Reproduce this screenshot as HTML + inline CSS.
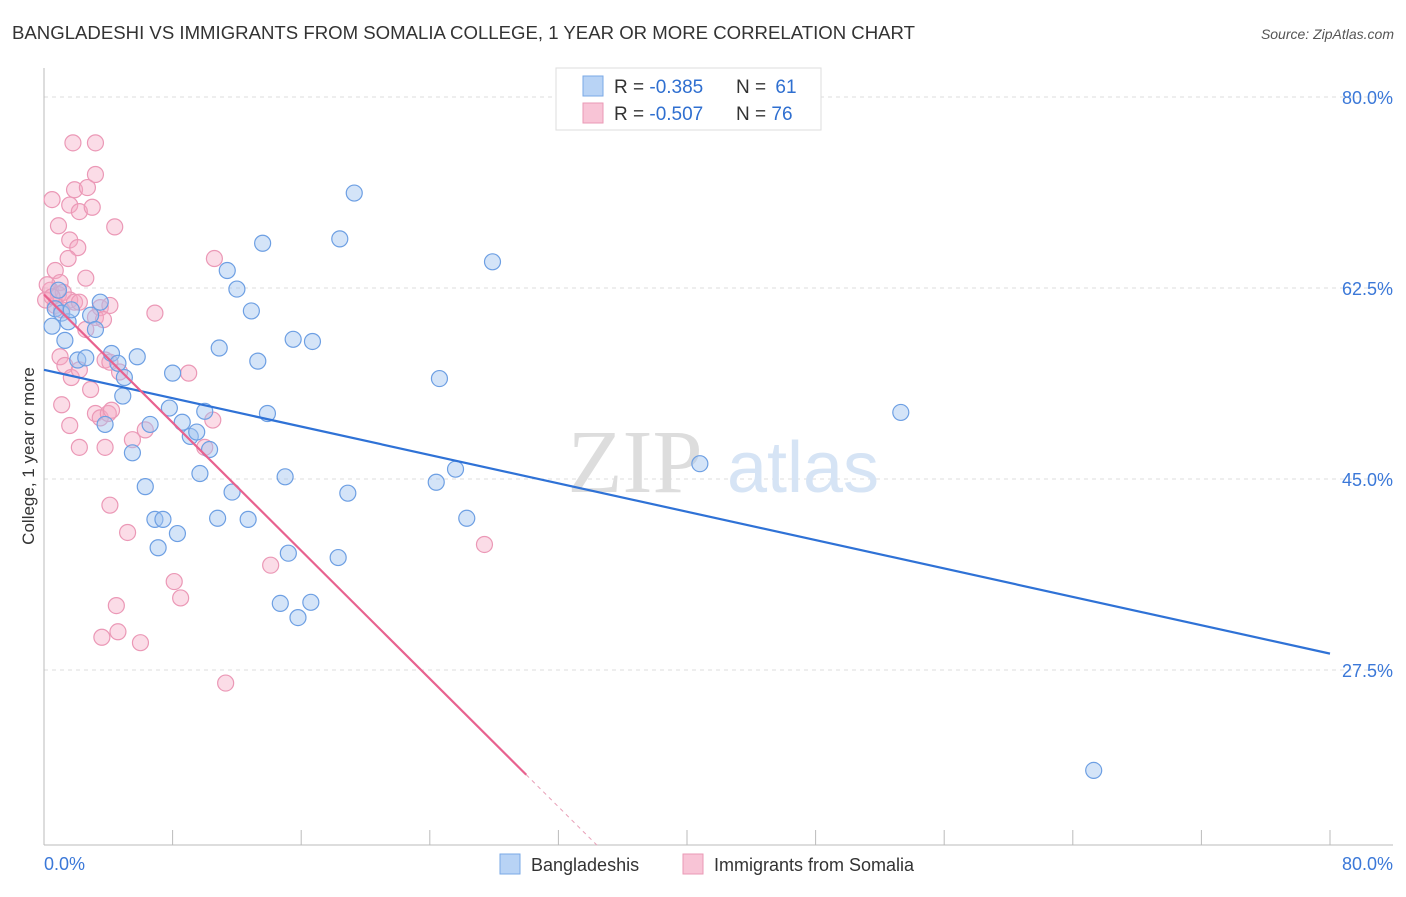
<!DOCTYPE html>
<html><head><meta charset="utf-8"><style>
body{margin:0;background:#fff;font-family:"Liberation Sans",sans-serif}
</style></head><body>
<svg width="1406" height="892" xmlns="http://www.w3.org/2000/svg" font-family="Liberation Sans, sans-serif">
<text x="12" y="39" font-size="18.6" fill="#333">BANGLADESHI VS IMMIGRANTS FROM SOMALIA COLLEGE, 1 YEAR OR MORE CORRELATION CHART</text>
<text x="1394" y="39" font-size="14" fill="#555" font-style="italic" text-anchor="end">Source: ZipAtlas.com</text>
<g id="grid"></g>
<g><text x="635" y="492" font-size="90" fill="#ddd" text-anchor="middle" font-family="Liberation Serif, serif">ZIP</text><text x="803" y="492" font-size="72" fill="#d6e4f5" text-anchor="middle">atlas</text></g>
<g id="axes"></g>
<g id="pts"></g>
<g id="trends"></g>
<text transform="translate(34,456) rotate(-90)" font-size="17" fill="#333" text-anchor="middle">College, 1 year or more</text>
<g>
<rect x="556" y="68" width="265" height="62" fill="#fff" stroke="#ddd"/>
<rect x="583" y="76" width="20" height="20" fill="#b8d3f5" stroke="#7aa8e6"/>
<rect x="583" y="103" width="20" height="20" fill="#f8c4d6" stroke="#ea99b5"/>
<text x="614" y="93" font-size="19" fill="#333">R = <tspan fill="#2f6fd0">-0.385</tspan></text>
<text x="736" y="93" font-size="19" fill="#333">N = <tspan fill="#2f6fd0" dx="4">61</tspan></text>
<text x="614" y="120" font-size="19" fill="#333">R = <tspan fill="#2f6fd0">-0.507</tspan></text>
<text x="736" y="120" font-size="19" fill="#333">N = <tspan fill="#2f6fd0">76</tspan></text>
</g>
<g>
<rect x="500" y="854" width="20" height="20" fill="#b8d3f5" stroke="#7aa8e6"/>
<text x="531" y="871" font-size="18" fill="#333">Bangladeshis</text>
<rect x="683" y="854" width="20" height="20" fill="#f8c4d6" stroke="#ea99b5"/>
<text x="714" y="871" font-size="18" fill="#333">Immigrants from Somalia</text>
</g>
</svg>
<script>
const yTicks=[80,62.5,45,27.5];
const xTickVals=[0,8,16,24,32,40,48,56,64,72,80];
const blueX=[0.5,0.7,0.9,1.1,1.3,1.5,1.7,2.1,2.6,2.9,3.2,3.5,3.8,4.2,4.6,4.9,5.0,5.5,5.8,6.3,6.6,6.9,7.1,7.4,7.8,8.0,8.3,8.6,9.1,9.5,9.7,10.0,10.3,10.8,10.9,11.4,11.7,12.0,12.7,12.9,13.3,13.6,13.9,15.0,15.2,14.7,15.5,15.8,16.6,16.7,18.3,18.4,18.9,19.3,24.4,24.6,25.6,26.3,27.9,40.8,53.3,65.3];
const blueY=[59.0,60.6,62.3,60.2,57.7,59.4,60.5,55.9,56.1,60.0,58.7,61.2,50.0,56.5,55.6,52.6,54.3,47.4,56.2,44.3,50.0,41.3,38.7,41.3,51.5,54.7,40.0,50.2,48.9,49.3,45.5,51.2,47.7,41.4,57.0,64.1,43.8,62.4,41.3,60.4,55.8,66.6,51.0,45.2,38.2,33.6,57.8,32.3,33.7,57.6,37.8,67.0,43.7,71.2,44.7,54.2,45.9,41.4,64.9,46.4,51.1,18.3];
const pinkX=[0.5,0.9,1.8,3.2,1.9,2.7,3.2,1.6,2.2,3.0,4.4,1.6,2.1,1.5,0.7,1.0,2.6,0.4,0.9,1.2,1.6,1.9,2.2,3.5,4.1,0.7,1.1,3.2,3.7,2.6,6.9,1.0,1.3,1.7,2.2,2.9,3.8,4.1,4.7,1.1,1.6,3.2,3.5,4.0,4.2,2.2,3.8,5.5,6.3,9.0,10.5,10.6,4.1,5.2,8.1,8.5,4.5,3.6,4.6,6.0,10.0,11.3,14.1,27.4,0.1,0.2,0.5];
const pinkY=[70.6,68.2,75.8,75.8,71.5,71.7,72.9,70.1,69.5,69.9,68.1,66.9,66.2,65.2,64.1,63.0,63.4,62.3,61.9,62.1,61.4,61.2,61.2,60.7,60.9,60.9,60.5,59.8,59.6,58.7,60.2,56.2,55.4,54.3,55.0,53.2,55.9,55.7,54.8,51.8,49.9,51.0,50.6,51.0,51.3,47.9,47.9,48.6,49.5,54.7,50.4,65.2,42.6,40.1,35.6,34.1,33.4,30.5,31.0,30.0,47.9,26.3,37.1,39.0,61.4,62.8,61.7];
const blueTrend=[55.0,29.0];
const pinkTrend=[61.9,17.9,30.0,34.4];
const X=v=>44+v*16.075, Y=v=>97+(80-v)*10.914;
const NS='http://www.w3.org/2000/svg';
function mk(p,t,a){const e=document.createElementNS(NS,t);for(const k in a)e.setAttribute(k,a[k]);p.appendChild(e);return e;}
const grid=document.getElementById('grid'),axes=document.getElementById('axes');
yTicks.forEach(v=>{
 const l=mk(grid,'line',{x1:44,x2:1393,y1:Y(v),y2:Y(v),stroke:'#ddd','stroke-dasharray':'4,4'});
 
 
 const t=mk(axes,'text',{x:1393,y:Y(v)+7,'font-size':18,fill:'#3b78d8','text-anchor':'end'});t.textContent=v.toFixed(1)+'%';
 
 
});
mk(axes,'line',{x1:44,x2:44,y1:68,y2:845,stroke:'#bbb'});
mk(axes,'line',{x1:44,x2:1393,y1:845,y2:845,stroke:'#bbb'});
xTickVals.forEach(v=>{const l=mk(axes,'line',{x1:X(v),x2:X(v),y1:830,y2:845,stroke:'#bbb'});
 
 });
const t0=mk(axes,'text',{x:44,y:870,'font-size':18,fill:'#3b78d8'});t0.textContent='0.0%';


const t1=mk(axes,'text',{x:1393,y:870,'font-size':18,fill:'#3b78d8','text-anchor':'end'});t1.textContent='80.0%';


const pts=document.getElementById('pts');
pinkX.forEach((v,i)=>{const c=mk(pts,'circle',{cx:X(v),cy:Y(pinkY[i]),r:8,fill:'rgba(244,168,196,0.4)',stroke:'#eb98b6','stroke-width':1.2});
 
 });
blueX.forEach((v,i)=>{const c=mk(pts,'circle',{cx:X(v),cy:Y(blueY[i]),r:8,fill:'rgba(160,196,240,0.45)',stroke:'#6d9fe3','stroke-width':1.2});
 
 });
const tr=document.getElementById('trends');
const bl=mk(tr,'line',{x1:X(0),y1:Y(blueTrend[0]),x2:X(80),y2:Y(blueTrend[1]),stroke:'#2f72d6','stroke-width':2.2});


const slope=(pinkTrend[1]-pinkTrend[0])/pinkTrend[2];
const pl=mk(tr,'line',{x1:X(0),y1:Y(pinkTrend[0]),x2:X(pinkTrend[2]),y2:Y(pinkTrend[1]),stroke:'#e8628f','stroke-width':2.2});


const pd=mk(tr,'line',{x1:X(pinkTrend[2]),y1:Y(pinkTrend[1]),x2:X(pinkTrend[3]),y2:Y(pinkTrend[0]+slope*pinkTrend[3]),stroke:'#e8a0b8','stroke-width':1,'stroke-dasharray':'4,4'});


</script>
</body></html>
